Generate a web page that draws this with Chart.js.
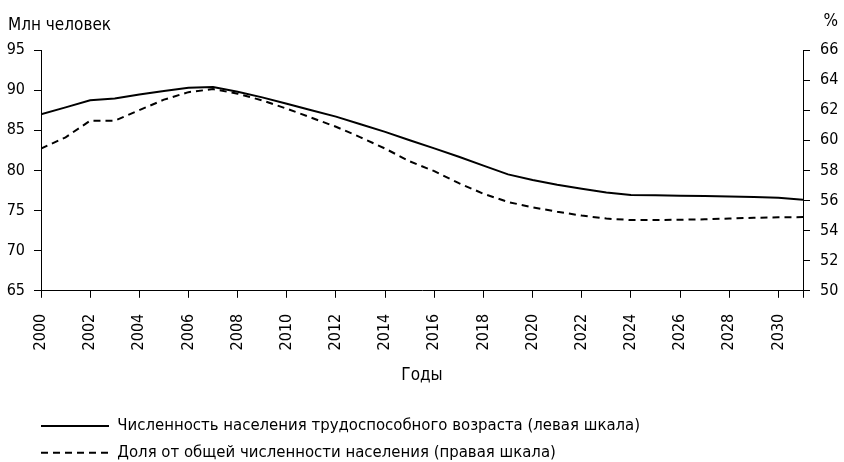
<!DOCTYPE html>
<html lang="ru">
<head>
<meta charset="utf-8">
<title>Численность населения трудоспособного возраста</title>
<script src="https://cdn.jsdelivr.net/npm/chart.js@4/dist/chart.umd.min.js"></script>
<style>
    html, body { margin: 0; padding: 0; background: #fff; }
    #wrap { width: 844px; height: 462px; position: relative; }
</style>
</head>
<body>
<div id="wrap"><canvas id="popChart"></canvas></div>
<script>
// Data
const years = [2000, 2001, 2002, 2003, 2004, 2005, 2006, 2007, 2008, 2009, 2010,
    2011, 2012, 2013, 2014, 2015, 2016, 2017, 2018, 2019, 2020,
    2021, 2022, 2023, 2024, 2025, 2026, 2027, 2028, 2029, 2030, 2031];

// Млн человек (левая шкала)
const workingAge = [87.0, 87.85, 88.75, 88.95, 89.45, 89.9, 90.3, 90.4, 89.8, 89.1, 88.3,
    87.5, 86.7, 85.75, 84.8, 83.75, 82.75, 81.7, 80.6, 79.5, 78.8,
    78.2, 77.7, 77.25, 76.95, 76.9, 76.85, 76.8, 76.75, 76.7, 76.6, 76.35];

// % (правая шкала)
const shareOfTotal = [59.45, 60.2, 61.3, 61.3, 62.0, 62.7, 63.2, 63.4, 63.1, 62.65, 62.1,
    61.5, 60.9, 60.2, 59.45, 58.6, 57.95, 57.15, 56.45, 55.9, 55.55,
    55.25, 55.0, 54.8, 54.7, 54.7, 54.72, 54.75, 54.8, 54.85, 54.88, 54.9];

const seriesLabels = [
    'Численность населения трудоспособного возраста (левая шкала)',
    'Доля от общей численности населения (правая шкала)'
];

const leftUnit = 'Млн человек';
const rightUnit = '%';
const xTitle = 'Годы';

const FONT = "'DejaVu Sans Condensed', 'Liberation Sans Narrow', sans-serif";
const INK = '#000';
const TICK_SIZE = 16;
const TEXT_SIZE = 17;
const LEGEND_SIZE = 16.6;

// Unit captions above both value axes
const unitLabels = {
    id: 'unitLabels',
    afterDraw(chart) {
        const ctx = chart.ctx;
        ctx.save();
        ctx.fillStyle = INK;
        ctx.font = TEXT_SIZE + 'px ' + FONT;
        ctx.textBaseline = 'alphabetic';
        ctx.textAlign = 'left';
        ctx.fillText(leftUnit, 8, 30);
        ctx.textAlign = 'right';
        ctx.fillText(rightUnit, 838, 26);
        ctx.restore();
    }
};

// Legend sits under the plot, starting at the left axis
const legendOffset = {
    id: 'legendOffset',
    afterLayout(chart) {
        const shift = chart.chartArea.left - 10;
        chart.legend.left += shift;
        chart.legend.right += shift;
    }
};

function toPoints(values) {
    return values.map((v, i) => ({ x: years[i], y: v }));
}

function axisStyle(tickPadding) {
    return {
        border: { display: true, color: INK, width: 1 },
        grid: { drawOnChartArea: false, drawTicks: true, tickLength: 7, tickColor: INK, tickWidth: 1 },
        ticks: { color: INK, padding: tickPadding, font: { family: FONT, size: TICK_SIZE } }
    };
}

// Default legend items, but keep each dataset's dash pattern on the line sample
function legendItems(chart) {
    const items = Chart.defaults.plugins.legend.labels.generateLabels(chart);
    return items.map(item => ({
        ...item,
        lineDash: chart.data.datasets[item.datasetIndex].borderDash || []
    }));
}

const ctx = document.getElementById('popChart').getContext('2d');

const popChart = new Chart(ctx, {
    type: 'line',
    data: {
        datasets: [{
            label: seriesLabels[0],
            data: toPoints(workingAge),
            yAxisID: 'y',
            borderColor: INK,
            backgroundColor: INK,
            borderWidth: 2,
            pointRadius: 0,
            tension: 0
        }, {
            label: seriesLabels[1],
            data: toPoints(shareOfTotal),
            yAxisID: 'y1',
            borderColor: INK,
            backgroundColor: INK,
            borderWidth: 2,
            borderDash: [7, 5],
            pointRadius: 0,
            tension: 0
        }]
    },
    options: {
        responsive: true,
        maintainAspectRatio: false,
        animation: false,
        layout: {
            padding: { top: 50, left: 0, right: 0, bottom: -9 }
        },
        plugins: {
            legend: {
                position: 'bottom',
                align: 'start',
                labels: {
                    color: INK,
                    font: { family: FONT, size: LEGEND_SIZE },
                    usePointStyle: true,
                    pointStyle: 'line',
                    pointStyleWidth: 68,
                    padding: 10,
                    generateLabels: legendItems
                }
            },
            tooltip: { enabled: false }
        },
        scales: {
            x: {
                type: 'linear',
                min: 2000,
                max: 2031,
                ...axisStyle(16),
                ticks: {
                    ...axisStyle(16).ticks,
                    stepSize: 2,
                    autoSkip: false,
                    minRotation: 90,
                    maxRotation: 90,
                    callback: value => (value % 2 === 0 ? String(value) : '')
                },
                title: {
                    display: true,
                    text: xTitle,
                    color: INK,
                    font: { family: FONT, size: TEXT_SIZE },
                    padding: { top: 0, bottom: 22 }
                },
                afterFit: scale => { scale.height = 117; }
            },
            y: {
                position: 'left',
                min: 65,
                max: 95,
                ...axisStyle(9),
                ticks: { ...axisStyle(9).ticks, stepSize: 5 },
                afterFit: scale => { scale.width = 41; }
            },
            y1: {
                position: 'right',
                min: 50,
                max: 66,
                ...axisStyle(10),
                ticks: { ...axisStyle(10).ticks, stepSize: 2 },
                afterFit: scale => { scale.width = 41; }
            }
        }
    },
    plugins: [unitLabels, legendOffset]
});
</script>
</body>
</html>
